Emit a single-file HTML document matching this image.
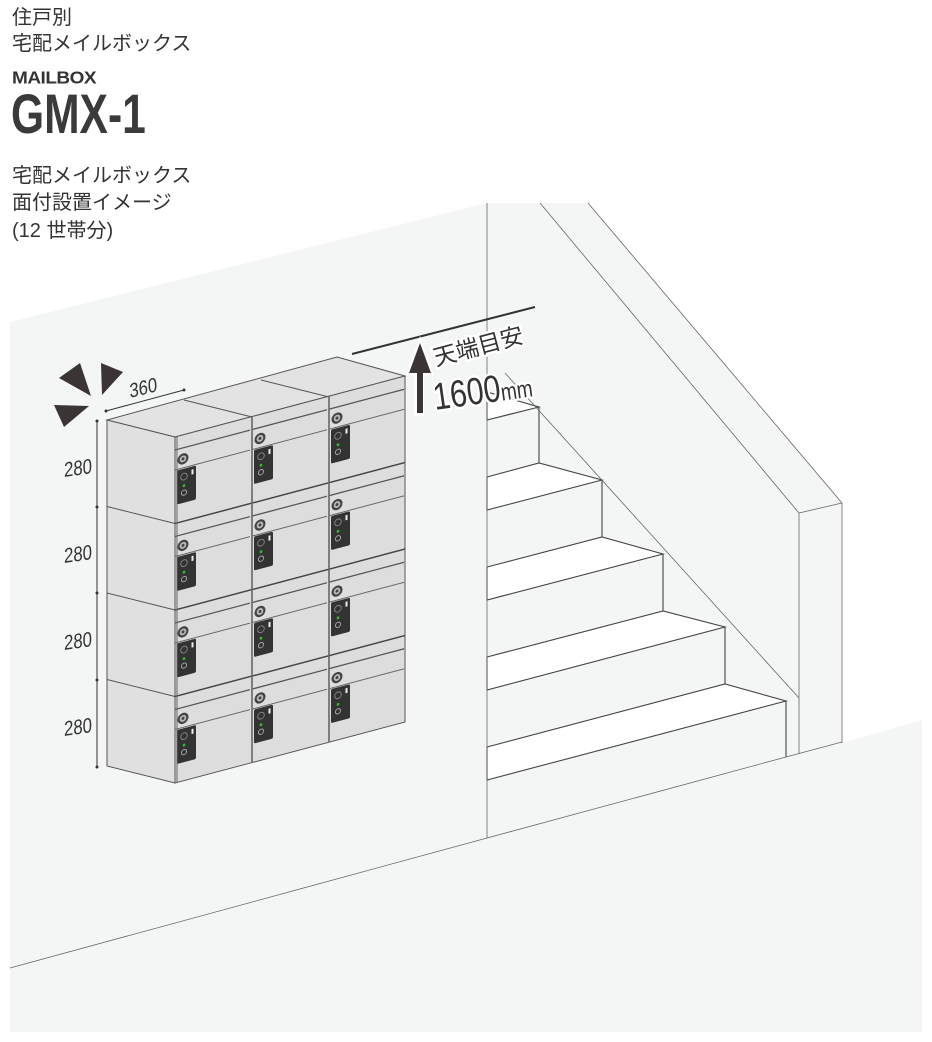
<!DOCTYPE html>
<html><head><meta charset="utf-8"><style>
html,body{margin:0;padding:0;background:#fff;}
body{width:932px;height:1042px;position:relative;overflow:hidden;font-family:"Liberation Sans","Noto Sans CJK JP",sans-serif;color:#333;}
.t{position:absolute;left:12px;font-size:20px;line-height:27px;white-space:nowrap;}
</style></head><body>
<svg width="932" height="1042" style="position:absolute;left:0;top:0">
<defs>
<g id="mod">
  <line x1="0" y1="13" x2="75" y2="13" stroke="#555" stroke-width="1.3"/>
  <line x1="0" y1="33" x2="75" y2="33" stroke="#666" stroke-width="1"/>
  <circle cx="8" cy="24" r="5.5" fill="#444"/>
  <circle cx="8" cy="24" r="3.3" fill="#bbb"/>
  <circle cx="8" cy="24" r="1.5" fill="#444"/>
  <rect x="2" y="34" width="19" height="34" rx="1.5" fill="#333"/>
  <circle cx="9" cy="42" r="3.3" fill="none" stroke="#888" stroke-width="0.9"/>
  <rect x="16.5" y="37" width="2" height="5" fill="#eee"/>
  <circle cx="9" cy="51" r="1.4" fill="#3b3"/>
  <circle cx="9" cy="58" r="2.6" fill="none" stroke="#aaa" stroke-width="0.9"/>
</g>
</defs>
<polygon points="10,322 487,203 588,203 842,503 842,743 922,720 922,1032 10,1032" fill="#f4f6f5"/>
<g fill="#fff" stroke="#444" stroke-width="1.1">
<polygon points="487,392 539,407 487,420"/>
<polygon points="487,477 539,463 602,480 487,510"/>
<polygon points="487,567 602,537 663,554 487,600"/>
<polygon points="487,657 663,611 725,627 487,690"/>
<polygon points="487,747 725,684 786,701 487,780"/>
</g>
<g stroke="#444" stroke-width="1.1" fill="none">
<line x1="539" y1="407" x2="539" y2="463"/>
<line x1="602" y1="480" x2="602" y2="537"/>
<line x1="663" y1="554" x2="663" y2="611"/>
<line x1="725" y1="627" x2="725" y2="684"/>
<line x1="786" y1="701" x2="786" y2="757"/>
</g>
<g stroke="#666" stroke-width="0.8" fill="none">
<line x1="487" y1="203" x2="487" y2="838"/>
<line x1="540" y1="203" x2="799" y2="513"/>
<line x1="588" y1="203" x2="842" y2="503"/>
<line x1="799" y1="513" x2="842" y2="503"/>
<line x1="799" y1="513" x2="799" y2="754"/>
<line x1="842" y1="503" x2="842" y2="743"/>
<line x1="505" y1="373" x2="799" y2="698"/>
<polyline points="10,968 487,838 786,757 842,742"/>
</g>
<polygon points="107,420 337,357 405,376 175,437" fill="#e2e3e2" stroke="#555" stroke-width="1"/>
<line x1="184" y1="400" x2="252" y2="417" stroke="#555" stroke-width="1"/>
<line x1="261" y1="380" x2="329" y2="397" stroke="#555" stroke-width="1"/>
<polygon points="107,420 175,437 175,783 107,766" fill="#dfe0df" stroke="#555" stroke-width="1"/>
<g stroke="#555" stroke-width="1">
<line x1="107" y1="506.5" x2="175" y2="523.5"/>
<line x1="107" y1="593" x2="175" y2="610"/>
<line x1="107" y1="679.5" x2="175" y2="696.5"/>
</g>
<g transform="matrix(1,-0.265,0,1,0,46.375)">
  <rect x="175" y="437" width="230" height="346" fill="#dcdddc" stroke="#555" stroke-width="1"/>
  <g stroke="#444" stroke-width="1.5">
    <line x1="175" y1="523.5" x2="405" y2="523.5"/>
    <line x1="175" y1="610" x2="405" y2="610"/>
    <line x1="175" y1="696.5" x2="405" y2="696.5"/>
  </g>
  <use href="#mod" x="175" y="437"/><use href="#mod" x="252" y="437"/><use href="#mod" x="329" y="437"/>
  <use href="#mod" x="175" y="523.5"/><use href="#mod" x="252" y="523.5"/><use href="#mod" x="329" y="523.5"/>
  <use href="#mod" x="175" y="610"/><use href="#mod" x="252" y="610"/><use href="#mod" x="329" y="610"/>
  <use href="#mod" x="175" y="696.5"/><use href="#mod" x="252" y="696.5"/><use href="#mod" x="329" y="696.5"/>
  <g stroke="#666" stroke-width="1.6">
    <line x1="252" y1="437" x2="252" y2="783"/>
    <line x1="329" y1="437" x2="329" y2="783"/>
    <line x1="177" y1="437" x2="177" y2="783" stroke-width="1"/>
  </g>
</g>
<polygon points="59,378 80,363 91,396" fill="#3a3435"/>
<polygon points="101,363 123,372 102,395" fill="#3a3435"/>
<polygon points="54,405 89,406 64,427" fill="#3a3435"/>
<line x1="106" y1="411" x2="184" y2="390" stroke="#333" stroke-width="1"/>
<circle cx="106" cy="411" r="1.5" fill="#333"/><circle cx="184" cy="390" r="1.5" fill="#333"/>
<text x="0" y="0" transform="translate(130,398) rotate(-14) skewX(-10) scale(0.85,1)" font-size="20" fill="#333" font-family="Liberation Sans">360</text>
<line x1="97" y1="421" x2="97" y2="767" stroke="#333" stroke-width="1"/>
<g fill="#333"><circle cx="97" cy="421" r="1.5"/><circle cx="97" cy="507" r="1.5"/><circle cx="97" cy="593" r="1.5"/><circle cx="97" cy="680" r="1.5"/><circle cx="97" cy="767" r="1.5"/></g>
<g font-size="21" fill="#333" font-family="Liberation Sans">
<text transform="translate(64,477) skewY(-8) scale(0.8,1)">280</text>
<text transform="translate(64,563) skewY(-8) scale(0.8,1)">280</text>
<text transform="translate(64,650) skewY(-8) scale(0.8,1)">280</text>
<text transform="translate(64,736) skewY(-8) scale(0.8,1)">280</text>
</g>
<line x1="352" y1="354" x2="535" y2="307" stroke="#333" stroke-width="2"/>
<rect x="414" y="366" width="10" height="50" fill="#fff"/>
<polygon points="420,336 434,376 406,376" fill="#fff"/>
<rect x="417" y="370" width="6" height="43" fill="#3a3435"/>
<polygon points="420,343 431,373 409,373" fill="#3a3435"/>
<g font-family="Liberation Sans,Noto Sans CJK JP,sans-serif" fill="#333" stroke="#fff" stroke-width="5" paint-order="stroke" stroke-linejoin="round">
<text transform="translate(436,366) rotate(-15)" font-size="23">天端目安</text>
<text transform="translate(435,410) rotate(-8) scale(0.8,1)" font-size="38">1600<tspan font-size="24">mm</tspan></text>
</g>
</svg>
<div class="t" style="top:5px">住戸別</div>
<div class="t" style="top:31px">宅配メイルボックス</div>
<div style="position:absolute;left:12px;top:71px;font-size:19px;font-weight:bold;letter-spacing:-0.5px;line-height:18px;color:#333;transform:scale(1,0.9);transform-origin:0 0;white-space:nowrap;">MAILBOX</div>
<div style="position:absolute;left:11px;top:84px;font-size:56px;font-weight:bold;line-height:60px;transform:scale(0.76,1);transform-origin:0 0;color:#3a3a3a;white-space:nowrap;">GMX-1</div>
<div class="t" style="top:163px">宅配メイルボックス</div>
<div class="t" style="top:190px">面付設置イメージ</div>
<div class="t" style="top:218px">(12 世帯分)</div>
</body></html>
